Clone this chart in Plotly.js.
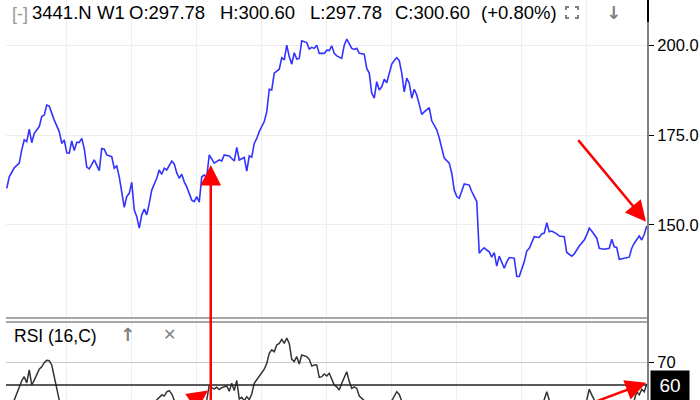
<!DOCTYPE html>
<html><head><meta charset="utf-8">
<script src="https://cdn.plot.ly/plotly-3.0.1.min.js"></script>
<style>html,body{margin:0;padding:0;overflow:hidden;background:#fff;width:700px;height:400px}
#frame{width:700px;height:400px;overflow:hidden;position:relative}#chart{width:700px;height:470px}</style>
</head><body><div id="frame"><div id="chart"></div></div>
<script>
// ---- data (weekly index) ----
const priceWeeks = [0,1,3,5,6,7,8,9,10,11,13,14,15,16,17,19,21,22,23,24,25,26,27,28,29,30,31,32,33,35,37,38,39,40,42,43,44,45,47,48,49,50,51,52,53,54,55,56,57,58,60,61,62,63,64,65,66,67,68,69,70,71,72,74,75,76,77,78,79,80,81,83,85,86,87,89,91,92,93,95,96,97,98,99,100,101,103,104,105,106,107,109,110,111,112,113,114,115,116,117,118,120,121,122,123,124,125,127,128,129,130,131,132,134,135,136,138,139,140,141,143,144,145,146,147,148,149,150,151,152,154,155,156,157,158,159,160,161,162,163,164,165,166,167,169,170,171,172,173,174,175,177,178,179,180,181,183,185,186,188,189,190,191,192,193,194,195,196,197,199,200,201,203,204,205,207,208,209,211,213,214,215,216,217,218,220,221,223,224,226,227,228,229,231,232,233,234,236,237,239,241,242,243,244,245,247,249,250,251,253,254,255,256];
const priceValues = [160.2,163.4,165.9,167.2,170.9,173.7,173.2,176.7,172.9,175.5,177.4,180.2,180.6,183.4,183.1,179.2,176.0,172.7,173.7,170.1,170.0,173.4,170.7,173.0,173.0,174.1,171.3,166.1,165.6,168.1,165.1,171.3,171.1,169.5,169.0,165.8,166.4,163.4,154.9,157.9,158.8,161.9,154.2,152.3,149.1,152.8,154.4,152.8,156.0,159.7,163.0,165.3,164.1,165.8,165.3,166.4,167.8,167.0,164.5,163.0,164.1,162.0,160.6,156.9,156.5,157.9,156.3,163.4,163.9,163.4,169.5,167.2,168.1,167.8,169.5,169.2,167.8,171.6,168.1,168.8,165.0,169.2,168.9,172.7,174.1,176.0,178.8,181.5,187.8,187.6,192.3,193.4,196.6,196.0,200.1,196.9,194.8,198.0,196.2,196.4,201.3,200.8,199.0,199.5,199.2,200.1,197.8,197.8,198.7,198.6,199.9,197.8,197.1,196.4,200.1,201.8,199.2,198.9,199.2,197.8,197.6,193.6,192.3,186.7,185.3,189.9,187.6,188.5,190.6,189.6,194.8,195.8,196.6,195.8,192.3,187.1,190.9,189.5,185.3,187.8,186.2,183.6,180.8,181.5,182.7,179.0,177.8,176.5,174.2,170.9,168.6,167.2,164.4,159.7,157.9,157.4,161.4,161.1,159.3,156.5,142.1,143.0,143.6,143.0,142.5,141.0,142.3,138.5,141.3,137.9,139.7,140.9,140.7,135.6,135.6,139.7,142.7,143.5,146.7,146.5,147.5,147.7,150.6,148.1,148.3,147.5,146.9,146.7,142.3,141.3,141.9,143.0,144.1,145.8,147.2,149.1,148.3,146.3,143.5,143.2,143.5,146.0,143.9,143.7,140.4,140.7,141.0,143.5,144.9,146.9,145.8,147.4,149.7];

const rsiWeeks = [0,2,3,6,7,8,9,10,11,12,13,14,15,16,17,18,19,20,21,23,30,40,50,57,60,61,62,63,64,65,66,67,69,74,78,80,81,82,83,84,85,86,87,88,89,90,91,92,93,94,95,96,97,98,99,100,101,103,104,105,106,107,108,109,110,111,112,113,114,115,116,117,118,120,121,122,123,124,125,126,127,128,129,130,131,132,133,134,136,137,138,139,140,141,142,143,146,150,153,154,156,157,158,161,170,180,190,200,210,214,215,216,217,219,225,230,232,233,234,235,237,242,246,250,251,252,253,254,255,256];
const rsiValues = [48,50,53.3,61.9,63.7,60.9,66.7,60.0,62.2,64.4,67.0,68.1,69.9,71.0,70.8,68.9,63.7,57.8,53.3,49,47,45,46,50,53.3,54.5,55.6,55.1,57.0,57.5,56.0,53.3,50,46,50,53.3,60.0,58.8,58.3,59.0,58.0,58.8,59.2,59.6,57.2,60.8,57.5,62.0,53.8,54.5,53.0,54.8,53.5,56.0,60.8,62.5,63.7,67.0,69.6,74.1,75.6,74.8,77.8,78.5,80.3,78.5,80.8,78.5,71.4,70.4,72.6,69.3,73.3,72.6,71.4,68.4,68.9,68.9,63.4,63.7,64.9,64.0,65.2,62.2,60.0,59.2,57.8,60.8,65.9,61.5,58.5,59.2,58.5,55.1,54.1,53.3,50,48,51,53.0,57.0,55.8,52.8,48,40,36,30,33,42,50,53.3,57.0,53.3,49,45,50,53.3,58.1,55.6,53.3,49,50,46,51,53.3,57.0,55.6,58.1,57.0,60.4];

const gridWeeks = [24,50,76,102,128,154,180,206,232];
const priceTicks = [150,175,200];
const rsiTicks = [70];
const rsiLast = 60;
const headerParts = ['3441.N','W1','O:297.78','H:300.60','L:297.78','C:300.60','(+0.80%)'];
const rsiTitle = 'RSI (16,C)';
// arrows: tip at (week, value) on given axis; tail offset in px
const arrows = [
  {x:81.6, y:166.7, ax:0, ay:275, yref:'y'},
  {x:255.7, y:150.9, ax:-69, ay:-83, yref:'y'},
  {x:255.8, y:61.0, ax:-110, ay:41, yref:'y2'},
  {x:80.5, y:57.6, ax:-82, ay:58, yref:'y2'}
];

// ---- layout helpers (pixel -> paper) ----
const PL = 6, PW = 642, H = 470;
const px = v => (v - PL) / PW;
const py = v => 1 - v / H;
const FONT = 'Liberation Sans, Arial, sans-serif';

const traces = [
  {x: priceWeeks, y: priceValues, type:'scatter', mode:'lines', xaxis:'x', yaxis:'y',
   line:{color:'#3333ff', width:1.6}, hoverinfo:'skip'},
  {x: rsiWeeks, y: rsiValues, type:'scatter', mode:'lines', xaxis:'x', yaxis:'y2',
   line:{color:'#333333', width:1.5}, hoverinfo:'skip'}
];

const headerX = [30, 95, 127, 218, 308, 393, 479];
const annotations = [];
annotations.push({xref:'paper', yref:'paper', x:px(10), y:py(14), xanchor:'left', yanchor:'middle',
  text:'[-]', showarrow:false, font:{family:FONT, size:18, color:'#999'}});
headerParts.forEach((t,i) => annotations.push({xref:'paper', yref:'paper', x:px(headerX[i]), y:py(13),
  xanchor:'left', yanchor:'middle', text:t, showarrow:false, font:{family:FONT, size:18.5, color:'#000'}}));
annotations.push({xref:'paper', yref:'paper', x:px(613), y:py(12), xanchor:'center', yanchor:'middle',
  text:'<b>↓</b>', showarrow:false, font:{family:'DejaVu Sans', size:18, color:'#808080'}});
annotations.push({xref:'paper', yref:'paper', x:px(12), y:py(336), xanchor:'left', yanchor:'middle',
  text:rsiTitle, showarrow:false, font:{family:FONT, size:17.5, color:'#000'}});
annotations.push({xref:'paper', yref:'paper', x:px(127), y:py(334), xanchor:'center', yanchor:'middle',
  text:'<b>↑</b>', showarrow:false, font:{family:'DejaVu Sans', size:18, color:'#808080'}});
annotations.push({xref:'paper', yref:'paper', x:px(170), y:py(334), xanchor:'center', yanchor:'middle',
  text:'<b>✕</b>', showarrow:false, font:{family:'DejaVu Sans', size:16, color:'#808080'}});
annotations.push({xref:'paper', yref:'y2', x:1, y:rsiLast, xanchor:'left', yanchor:'middle', xshift:2,
  text:String(rsiLast), showarrow:false, bgcolor:'#000', width:36, height:27,
  font:{family:FONT, size:19, color:'#fff'}});
arrows.forEach(a => annotations.push({xref:'x', yref:a.yref, x:a.x, y:a.y, ax:a.ax, ay:a.ay,
  axref:'pixel', ayref:'pixel', text:'', showarrow:true, arrowhead:2, arrowsize:1.65, arrowwidth:2.5,
  arrowcolor:'#ff0000', standoff:0}));

// icon: four corners
const c = (x0,y0,x1,y1,x2,y2) => `M${px(x0)},${py(y0)}L${px(x1)},${py(y1)}L${px(x2)},${py(y2)}`;
const iconPath = [c(566,10,566,7,569,7), c(575,7,578,7,578,10), c(578,15,578,18,575,18), c(569,18,566,18,566,15)].join('');

const shapes = [
  {type:'line', xref:'paper', yref:'paper', x0:0, x1:1, y0:py(318), y1:py(318), line:{color:'#8a8a8a', width:1.5}},
  {type:'line', xref:'paper', yref:'paper', x0:0, x1:1, y0:py(322), y1:py(322), line:{color:'#8a8a8a', width:1.5}},
  {type:'line', xref:'paper', yref:'y2', x0:0, x1:1, y0:rsiLast, y1:rsiLast, line:{color:'#222', width:1.5}},
  {type:'line', xref:'paper', yref:'paper', x0:1, x1:1, y0:0, y1:1, line:{color:'#808080', width:2}},
  {type:'line', xref:'paper', yref:'paper', x0:1, x1:1, y0:py(22), y1:1, line:{color:'#000', width:2}},
  {type:'path', xref:'paper', yref:'paper', path:iconPath, line:{color:'#808080', width:2}}
];

const layout = {
  width:700, height:H,
  margin:{l:PL, r:700-PL-PW, t:0, b:0, pad:0},
  paper_bgcolor:'#fff', plot_bgcolor:'#fff', showlegend:false,
  font:{family:FONT, color:'#000'},
  xaxis:{range:[-0.3,256.5], tickvals:gridWeeks, showticklabels:false, ticks:'', showgrid:true,
    gridcolor:'#eeeeee', gridwidth:1, zeroline:false, showline:false, fixedrange:true},
  yaxis:{domain:[py(318),1], range:[124.05,212.68], side:'right', anchor:'x', tickvals:priceTicks,
    tickformat:'.1f', ticks:'outside', ticklen:5, tickwidth:1, tickcolor:'#000',
    tickfont:{family:FONT, size:16.5, color:'#000'}, showgrid:true, gridcolor:'#eeeeee', zeroline:false, showline:false},
  yaxis2:{domain:[0,py(322)], range:[22.22,88], side:'right', anchor:'x', tickvals:rsiTicks,
    ticks:'outside', ticklen:5, tickwidth:1, tickcolor:'#000',
    tickfont:{family:FONT, size:16.5, color:'#000'}, showgrid:true, gridcolor:'#c8c8c8', zeroline:false, showline:false},
  shapes: shapes,
  annotations: annotations
};

Plotly.newPlot('chart', traces, layout, {staticPlot:true, displayModeBar:false});
</script>
</body></html>
